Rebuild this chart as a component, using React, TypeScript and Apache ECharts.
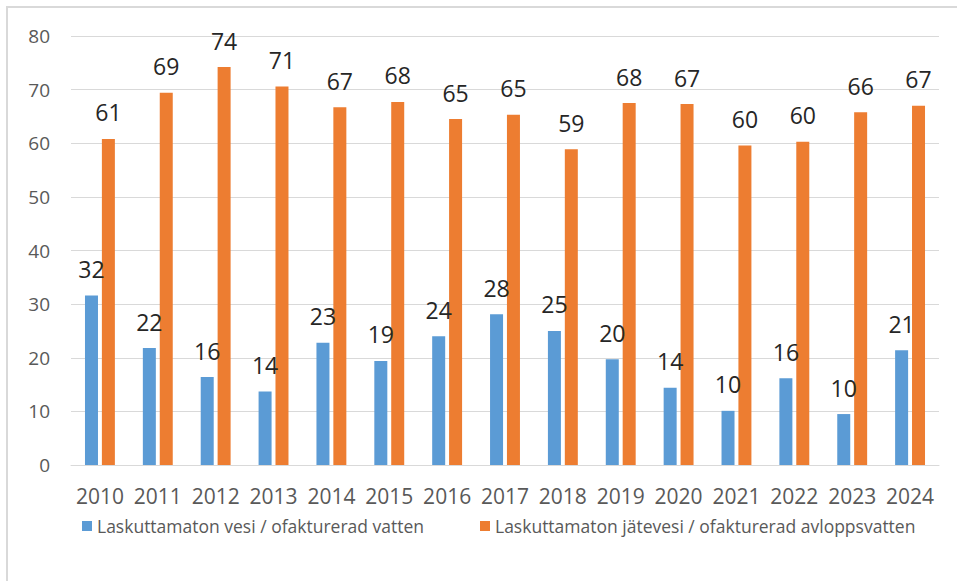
import React, { useEffect, useRef } from "react";
import * as echarts from "echarts";

const years = ["2010", "2011", "2012", "2013", "2014", "2015", "2016", "2017", "2018", "2019", "2020", "2021", "2022", "2023", "2024"];
const waterName = "Laskuttamaton vesi / ofakturerad vatten";
const sewageName = "Laskuttamaton jätevesi / ofakturerad avloppsvatten";
const waterValues = [31.6, 21.8, 16.4, 13.7, 22.8, 19.4, 24.0, 28.1, 25.0, 19.7, 14.4, 10.1, 16.2, 9.5, 21.4];
const sewageValues = [60.8, 69.4, 74.2, 70.6, 66.7, 67.7, 64.5, 65.3, 58.9, 67.5, 67.3, 59.6, 60.3, 65.8, 67.0];
const yTicks = [0, 10, 20, 30, 40, 50, 60, 70, 80];

const FONT = "'Open Sans', 'Liberation Sans', sans-serif";

export default function App() {
  const ref = useRef<HTMLDivElement>(null);
  useEffect(() => {
    if (!ref.current) return;
    const chart = echarts.init(ref.current, undefined, { renderer: "svg" });
    const dataLabel = {
      show: true,
      position: "top",
      distance: 15,
      color: "#262626",
      fontSize: 23,
      fontFamily: FONT,
      formatter: (p: any) => String(Math.round(p.value)),
    };
    const legendText = { color: "#595959", fontSize: 17.5, fontFamily: FONT };
    chart.setOption({
      animation: false,
      backgroundColor: "#ffffff",
      grid: { left: 71, right: 18, top: 36, bottom: 116, containLabel: false },
      graphic: [
        {
          type: "rect",
          shape: { x: 7, y: 7, width: 1200, height: 1200 },
          style: { fill: "none", stroke: "#d9d9d9", lineWidth: 2 },
          silent: true,
          z: -1,
        },
      ],
      legend: [
        {
          data: [waterName],
          left: 77,
          top: 512,
          itemWidth: 10,
          itemHeight: 10,
          icon: "rect",
          textStyle: legendText,
        },
        {
          data: [sewageName],
          left: 475,
          top: 512,
          itemWidth: 10,
          itemHeight: 10,
          icon: "rect",
          textStyle: legendText,
        },
      ],
      xAxis: {
        type: "category",
        data: years,
        axisLine: { show: true, lineStyle: { color: "#d9d9d9", width: 1 } },
        axisTick: { show: false },
        axisLabel: { color: "#595959", fontSize: 21, fontFamily: FONT, margin: 20, interval: 0 },
      },
      yAxis: {
        type: "value",
        min: yTicks[0],
        max: yTicks[yTicks.length - 1],
        interval: 10,
        axisLine: { show: false },
        axisTick: { show: false },
        splitLine: { lineStyle: { color: "#d9d9d9", width: 1 } },
        axisLabel: { color: "#595959", fontSize: 19, fontFamily: FONT, margin: 21 },
      },
      series: [
        {
          name: waterName,
          type: "bar",
          data: waterValues,
          barWidth: 13,
          barGap: "30%",
          itemStyle: { color: "#5B9BD5" },
          label: dataLabel,
        },
        {
          name: sewageName,
          type: "bar",
          data: sewageValues,
          barWidth: 13,
          barGap: "30%",
          itemStyle: { color: "#ED7D31" },
          label: dataLabel,
        },
      ],
    });
    return () => chart.dispose();
  }, []);
  return (
    <div
      ref={ref}
      style={{ position: "fixed", left: 0, top: 0, width: 957, height: 581, background: "#fff" }}
    />
  );
}
